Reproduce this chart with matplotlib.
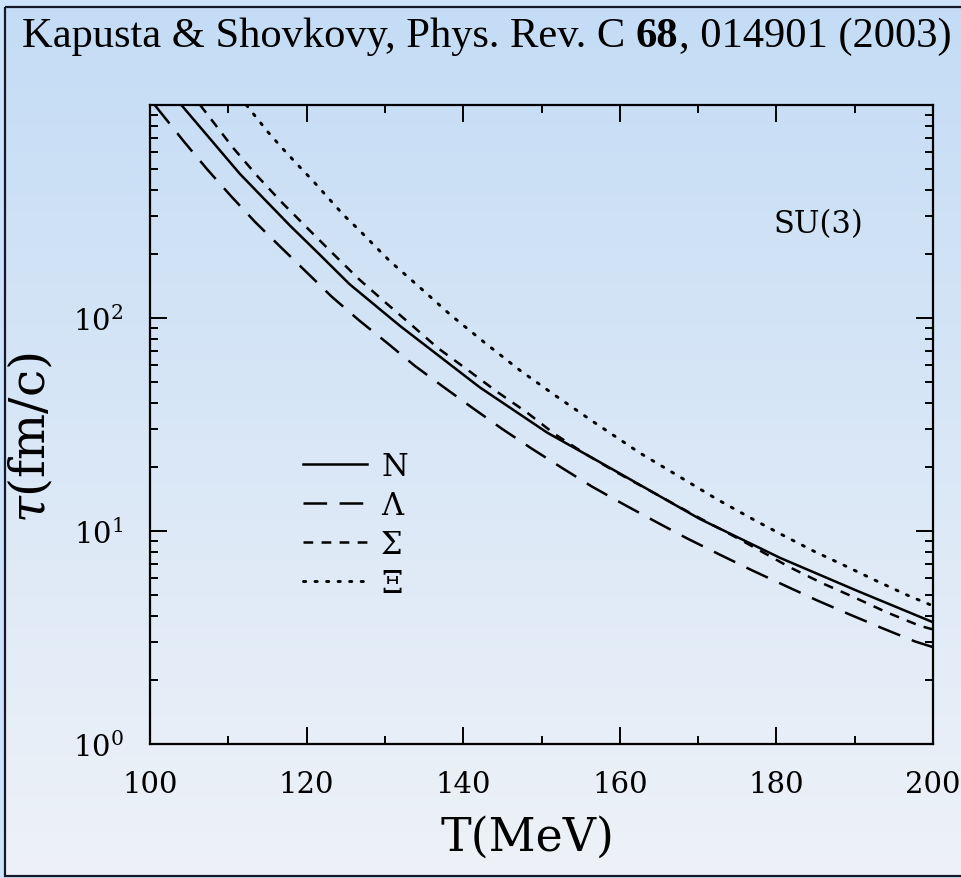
import numpy as np
import matplotlib
matplotlib.use('Agg')
import matplotlib.pyplot as plt
from matplotlib.patches import Rectangle
from matplotlib.ticker import LogLocator, NullFormatter

# hyperon relaxation times tau (fm/c) vs temperature T (MeV), SU(3)
t_n = [104.0, 111.5, 117.9, 121.7, 125.5, 131.9, 142.1, 150.7, 157.5, 161.3,
       170.2, 180.5, 190.3, 200.0]
tau_n = [1000, 474, 271, 198, 144, 92, 47.3, 29.0, 21.0, 17.5,
         11.4, 7.47, 5.24, 3.73]

t_lam = [100.6, 104.3, 107.3, 110.3, 113.4, 116.7, 120.0, 123.2, 126.7, 130.3,
         133.8, 137.5, 141.2, 145.0, 148.8, 152.6, 156.4, 160.4, 164.5, 168.5,
         172.6, 176.8, 181.1, 185.1, 189.4, 193.5, 197.7, 200.0]
tau_lam = [1000, 676, 499, 375, 283, 215, 164, 126, 97.5, 76.3,
           59.7, 47.4, 37.8, 30.1, 24.3, 19.8, 16.2, 13.4, 11.1, 9.27,
           7.80, 6.56, 5.54, 4.74, 4.05, 3.50, 3.03, 2.85]

t_sig = [106.4, 108.1, 110.6, 113.8, 116.9, 120.2, 123.4, 126.7, 130.1, 133.4,
         136.8, 140.7, 144.3, 148.1, 151.7, 155.6, 159.2, 170.0, 175.4, 181.7,
         185.8, 189.9, 194.1, 198.3, 200.0]
tau_sig = [1000, 830, 630, 460, 347, 262, 200, 152, 118, 92.7,
           72.1, 56.6, 45.1, 36.1, 28.5, 23.0, 19.2, 11.6, 9.1, 6.76,
           5.70, 4.89, 4.15, 3.59, 3.45]

t_xi = [112.3, 115.1, 117.0, 118.9, 120.9, 122.8, 124.7, 126.7, 128.7, 130.7,
        134.1, 138.3, 142.8, 147.3, 151.9, 156.6, 162.6, 167.5, 172.4, 177.3,
        181.1, 184.9, 188.9, 192.7, 196.6, 200.0]
tau_xi = [1000, 744, 621, 522, 437, 365, 305, 259, 218, 184,
          143, 104, 76.3, 56.6, 42.9, 32.6, 23.2, 18.1, 14.1, 11.2,
          9.44, 8.0, 6.83, 5.85, 5.02, 4.45]

labels = ['N', 'Λ', 'Σ', 'Ξ']

plt.rcParams['font.family'] = ['DejaVu Serif']
plt.rcParams['mathtext.fontset'] = 'dejavuserif'
plt.rcParams['lines.scale_dashes'] = False

W, H = 961, 879
fig = plt.figure(figsize=(W / 100, H / 100), dpi=100)
fig.patch.set_facecolor('#cde3fc')

# gradient panel with dark frame
bg = fig.add_axes([0, 0, 1, 1], zorder=0)
top = np.array([196, 220, 245]) / 255
bot = np.array([238, 242, 248]) / 255
g = np.linspace(0, 1, 256)[:, None, None]
img = top + (bot - top) * g
bg.imshow(img, extent=(5, W + 10, 877, 8), aspect='auto')
bg.add_patch(Rectangle((5, 8), W + 20, 869, fill=False, ec='#15192a', lw=1.6))
bg.set_xlim(0, W)
bg.set_ylim(H, 0)
bg.axis('off')

ax = fig.add_axes([150 / W, 1 - 745 / H, 783 / W, 639 / H], zorder=1)
ax.set_facecolor('none')

lw = 1.8
h1, = ax.plot(t_n, tau_n, color='k', lw=lw)
h2, = ax.plot(t_lam, tau_lam, color='k', lw=lw, dashes=(17, 9))
h3, = ax.plot(t_sig, tau_sig, color='k', lw=lw, dashes=(7, 6))
h4, = ax.plot(t_xi, tau_xi, color='k', lw=lw + 0.3, dashes=(1.6, 6.7),
              dash_capstyle='round')

ax.set_yscale('log')
ax.set_xlim(100, 200)
ax.set_ylim(1, 1000)
ax.set_xticks(range(100, 201, 20))
ax.set_xticks(range(110, 200, 20), minor=True)
ax.set_yticks([1, 10, 100, 1000])
ax.set_yticklabels([r'$10^0$', r'$10^1$', r'$10^2$', ''])
ax.yaxis.set_minor_locator(LogLocator(base=10, subs=range(2, 10), numticks=20))
ax.yaxis.set_minor_formatter(NullFormatter())

ax.tick_params(which='both', direction='in', top=True, right=True,
               width=1.4, colors='k', labelsize=21)
ax.tick_params(which='major', length=12.5)
ax.tick_params(which='minor', length=6)
ax.tick_params(axis='x', pad=19)
ax.tick_params(axis='y', pad=19)
for s in ax.spines.values():
    s.set_linewidth(1.6)

ax.legend([h1, h2, h3, h4], labels, loc='upper left',
          bbox_to_anchor=(0.195, 0.459), frameon=False, fontsize=22,
          handlelength=2.12, handletextpad=0.45, labelspacing=0.26,
          borderpad=0, borderaxespad=0)

ax.text(0.853, 0.814, 'SU(3)', transform=ax.transAxes, ha='center',
        va='center', fontsize=22)

fig.text(527 / W, 1 - 838 / H, 'T(MeV)', ha='center', va='center', fontsize=33)
fig.text(31 / W, 1 - 438 / H, r'$\tau$(fm/c)', rotation=90, ha='center',
         va='center', fontsize=35)

# citation line, with bold volume number
r = fig.canvas.get_renderer()
yb = 1 - 47 / H
fs = 30.6
tf = dict(family='Liberation Serif', fontsize=fs, va='baseline')
t1 = fig.text(22 / W, yb, 'Kapusta & Shovkovy, Phys. Rev. C', **tf)
x1 = t1.get_window_extent(r).x1 + fs * 100 / 72 * 0.25
t2 = fig.text(x1 / W, yb, '68', fontweight='bold', **tf)
x2 = t2.get_window_extent(r).x1 + 1
fig.text(x2 / W, yb, ', 014901 (2003)', **tf)

fig.savefig('out.png', dpi=100, facecolor=fig.get_facecolor())
